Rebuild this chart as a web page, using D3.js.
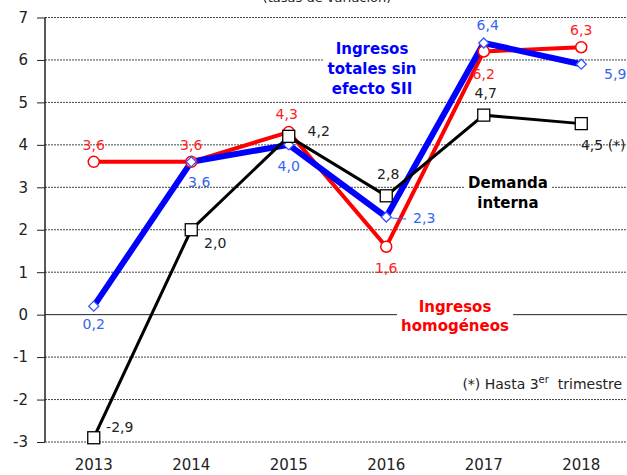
<!DOCTYPE html>
<html><head><meta charset="utf-8">
<script src="https://cdn.jsdelivr.net/npm/d3@7"></script>
<style>body{margin:0;background:#fff}svg{display:block}</style>
</head><body>
<script>
const years = ["2013","2014","2015","2016","2017","2018"];
const homogeneos = [3.6, 3.6, 4.3, 1.6, 6.2, 6.3];
const totalesSinSII = [0.2, 3.6, 4.0, 2.3, 6.4, 5.9];
const demandaInterna = [-2.9, 2.0, 4.2, 2.8, 4.7, 4.5];
const yTicks = [-3,-2,-1,0,1,2,3,4,5,6,7];
const fmt = v => v.toFixed(1).replace(".", ",");

const W = 627, H = 475;
const FONT = "'DejaVu Sans', Verdana, sans-serif";
const svg = d3.select("body").append("svg").attr("width", W).attr("height", H)
  .style("font-family", FONT);

const x = d3.scaleBand().domain(years).range([45, 630]).padding(0);
const xc = d => x(d) + x.bandwidth()/2;
const y = d3.scaleLinear().domain([-3, 7]).range([442, 17.5]);

// title (cut off at top, as in the reference)
svg.append("text").attr("x", 327).attr("y", 2).attr("text-anchor","middle")
  .style("font-size","13px").attr("fill","#222").text("(tasas de variación)");

// gridlines
svg.append("g").selectAll("line").data(yTicks).join("line")
  .attr("x1", 45).attr("x2", W).attr("y1", d => y(d)).attr("y2", d => y(d))
  .attr("stroke", d => d === 0 ? "#222" : "#444")
  .attr("stroke-width", 1)
  .attr("stroke-dasharray", d => d === 0 ? null : "2,1");

// y axis
const ya = svg.append("g").attr("transform","translate(45,0)")
  .call(d3.axisLeft(y).tickValues(yTicks).tickSize(8).tickPadding(9).tickFormat(d => String(d)));
ya.select(".domain").attr("stroke","#222").attr("stroke-width",1.5).attr("d", `M0,${y(-3)}V${y(7)}`);
ya.selectAll(".tick line").attr("stroke","#222");
ya.selectAll("text").style("font-size","15px").attr("fill","#222").style("font-family",FONT);

// x axis labels
const xa = svg.append("g").attr("transform",`translate(0,${y(-3)})`)
  .call(d3.axisBottom(x).tickSize(0).tickPadding(17));
xa.select(".domain").remove();
xa.selectAll("text").style("font-size","15px").attr("fill","#222").style("font-family",FONT);

// annotation blocks with white background
function block(lines, cx, cy0, lh, color, size) {
  const g = svg.append("g");
  const t = g.append("text").attr("text-anchor","middle").attr("fill",color)
    .style("font-size", size+"px").style("font-weight","bold");
  lines.forEach((l,i) => t.append("tspan").attr("x",cx).attr("y",cy0+i*lh).text(l));
  const b = t.node().getBBox();
  g.insert("rect","text").attr("x",b.x-4).attr("y",b.y-1).attr("width",b.width+8).attr("height",b.height+2).attr("fill","#fff");
}
block(["Ingresos","totales sin","efecto SII"], 372, 54, 20, "#0000ff", 15);
block(["Demanda","interna"], 508, 188, 20, "#000", 15);
block(["Ingresos","homogéneos"], 455, 312, 19, "#ff0000", 15);

// footnote
const fn = svg.append("text").attr("x", 622).attr("y", 389).attr("text-anchor","end")
  .style("font-size","14px").attr("fill","#222");
fn.append("tspan").text("(*) Hasta 3");
fn.append("tspan").attr("dy",-6).style("font-size","10px").text("er");
fn.append("tspan").attr("dy",6).text("\u00a0 trimestre");

const line = d3.line().x((d,i) => xc(years[i])).y(d => y(d));

svg.append("path").datum(homogeneos).attr("d", line).attr("fill","none")
  .attr("stroke","#ff0000").attr("stroke-width",4).attr("stroke-linejoin","round");
svg.append("path").datum(totalesSinSII).attr("d", line).attr("fill","none")
  .attr("stroke","#0000ff").attr("stroke-width",6).attr("stroke-linejoin","round");
svg.append("path").datum(demandaInterna).attr("d", line).attr("fill","none")
  .attr("stroke","#000").attr("stroke-width",3).attr("stroke-linejoin","miter");

// markers
svg.append("g").selectAll("circle").data(homogeneos).join("circle")
  .attr("cx",(d,i)=>xc(years[i])).attr("cy",d=>y(d)).attr("r",5.5)
  .attr("fill","#fff").attr("stroke","#ff0000").attr("stroke-width",1.5);
svg.append("g").selectAll("path").data(totalesSinSII).join("path")
  .attr("d", d3.symbol(d3.symbolDiamond2, 64))
  .attr("transform",(d,i)=>`translate(${xc(years[i])},${y(d)})`)
  .attr("fill","#fff").attr("stroke","#3355ff").attr("stroke-width",1.3);
svg.append("g").selectAll("rect").data(demandaInterna).join("rect")
  .attr("x",(d,i)=>xc(years[i])-6).attr("y",d=>y(d)-6).attr("width",12).attr("height",12)
  .attr("fill","#fff").attr("stroke","#000").attr("stroke-width",1.3);

// data labels
const redOff = [[0,-12],[0,-12],[-2,-13],[0,26],[0,28],[0,-12]];
const blueOff = [[0,23],[8,25],[0,26],[38,6],[4,-13],[34,15]];
const blackOff = [[26,-6],[24,18],[30,0],[2,-17],[2,-17],[22,26]];
function labels(data, off, color, suffix) {
  svg.append("g").selectAll("text").data(data).join("text")
    .attr("x",(d,i)=>xc(years[i])+off[i][0]).attr("y",(d,i)=>y(d)+off[i][1])
    .attr("text-anchor","middle").attr("fill",color).style("font-size","14px")
    .text((d,i)=>fmt(d) + (suffix && suffix[i] ? suffix[i] : ""));
}
labels(homogeneos, redOff, "#ff2020");
labels(totalesSinSII, blueOff, "#3366ee");
labels(demandaInterna, blackOff, "#222", ["","","","","","\u00a0(*)"]);
svg.append("line").attr("x1",xc("2016")+5).attr("y1",y(2.3)+1).attr("x2",xc("2016")+20).attr("y2",y(2.3)+2)
  .attr("stroke","#3366ee").attr("stroke-width",1);
</script>
</body></html>
